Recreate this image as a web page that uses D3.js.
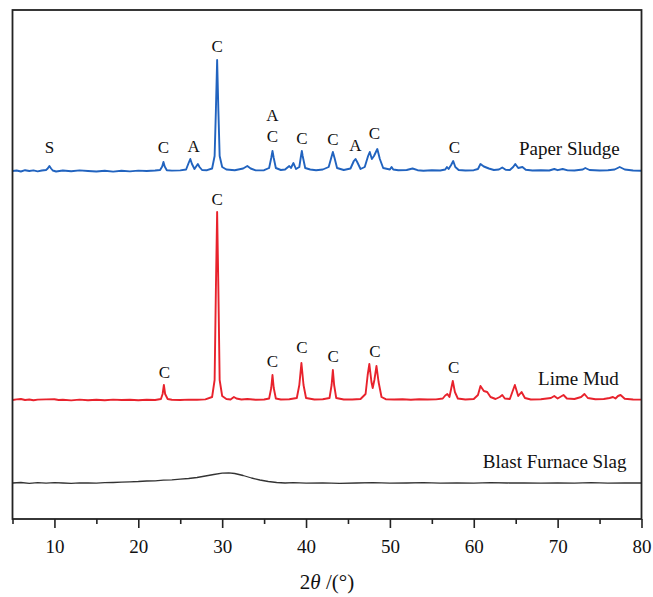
<!DOCTYPE html>
<html>
<head>
<meta charset="utf-8">
<script src="https://cdn.jsdelivr.net/npm/d3@7"></script>
<style>
  body { margin: 0; background: #fff; }
  svg text { font-family: "Liberation Serif", "Times New Roman", serif; fill: #111; }
  .trace { fill: none; stroke-linejoin: round; }
</style>
</head>
<body>
<svg id="xrd-svg"></svg>
<script>
// 2theta (deg), intensity above each pattern's own baseline (counts)
const paperSludge = [
  [5,0],[5.5,5],[6,-5],[6.5,8],[7,0],[7.5,6],[8,-4],[8.5,5],[9,10],[9.2,25],[9.4,50],[9.6,25],[9.8,5],
  [10.2,-5],[11,5],[12,-3],[13,6],[14,0],[15,-5],[16,3],[17,-6],[18,2],[19,-4],[20,4],[21,0],[22,5],
  [22.6,10],[22.85,45],[23.0,90],[23.15,45],[23.4,8],[24,4],[25,6],[25.7,15],[26.0,80],[26.2,120],
  [26.4,70],[26.7,20],[26.9,45],[27.1,70],[27.3,40],[27.6,10],[28.2,8],[28.8,25],[29.1,150],[29.25,600],
  [29.4,1110],[29.55,600],[29.7,150],[30.0,40],[30.5,15],[31.5,8],[32.5,25],[33.0,50],[33.4,25],[34,6],
  [35,8],[35.6,30],[35.85,130],[36.0,200],[36.15,130],[36.4,30],[37,10],[37.5,15],[38.0,50],[38.2,30],
  [38.5,80],[38.8,20],[39.2,40],[39.4,150],[39.5,200],[39.6,150],[39.9,30],[40.5,15],[41.2,8],[42,15],
  [42.7,40],[43.0,130],[43.2,190],[43.4,130],[43.7,30],[44.5,10],[45.3,25],[45.7,100],[45.9,120],
  [46.1,90],[46.5,20],[47.0,40],[47.4,150],[47.6,190],[47.85,120],[48.1,150],[48.5,220],[48.8,120],
  [49.2,30],[50,15],[50.2,40],[50.4,15],[51,8],[52,10],[52.7,25],[53.3,8],[54,3],[55,8],[56,5],
  [56.6,15],[56.8,40],[57,20],[57.3,60],[57.55,100],[57.8,40],[58.2,10],[59,5],[60,8],[60.5,20],
  [60.8,70],[61.2,45],[61.8,25],[62.4,10],[63,15],[63.4,35],[63.8,12],[64.3,10],[64.7,40],[64.95,70],
  [65.3,30],[65.8,40],[66.2,12],[67,5],[68,8],[69,5],[69.6,20],[70,8],[70.6,20],[71.2,6],[72,5],
  [73.0,15],[73.3,30],[73.8,10],[75,5],[76,8],[76.8,15],[77.4,40],[78,15],[79,5],[80,3]
];

const limeMud = [
  [5,0],[5.5,6],[6,10],[6.5,0],[7,5],[7.5,-3],[8,4],[9,6],[10,8],[10.5,0],[11,3],[12,-4],[13,4],
  [14,-2],[15,3],[16,-3],[17,4],[18,0],[19,3],[20,-2],[21,2],[22,0],[22.7,10],[22.9,60],[23.05,150],
  [23.2,60],[23.5,10],[24,3],[25,0],[26,4],[27,2],[28,6],[28.8,30],[29.1,200],[29.25,1100],[29.4,1880],
  [29.55,1100],[29.7,200],[30.0,40],[30.5,10],[31.0,5],[31.4,30],[31.7,15],[32.3,5],[33,10],[34,2],
  [35,5],[35.6,15],[35.85,120],[36.0,250],[36.15,120],[36.4,15],[37,5],[38,8],[38.9,20],[39.2,150],
  [39.45,370],[39.7,150],[40,20],[41,5],[42,8],[42.8,20],[43.05,150],[43.2,300],[43.35,150],[43.6,20],
  [44.5,5],[45.5,5],[46.5,10],[47.1,60],[47.35,250],[47.55,360],[47.8,180],[47.95,120],[48.15,200],
  [48.4,340],[48.65,180],[49.0,30],[49.5,8],[50.5,5],[51.5,8],[52.5,3],[53.5,8],[54.5,5],[55.5,6],
  [56.3,15],[56.6,45],[56.85,60],[57.1,30],[57.3,110],[57.5,190],[57.75,80],[58.1,15],[59,5],[60,10],
  [60.5,50],[60.8,140],[61.2,90],[61.6,80],[62,30],[62.6,10],[63.1,30],[63.4,50],[63.7,15],[64.3,10],
  [64.6,80],[64.9,150],[65.3,40],[65.7,80],[66.1,20],[66.8,5],[68,8],[69.2,20],[69.6,40],[70.0,15],
  [70.4,35],[70.7,50],[71.1,15],[72,10],[72.8,30],[73.2,60],[73.6,20],[74.5,8],[75.5,10],[76.2,20],
  [76.6,30],[76.9,15],[77.2,40],[77.5,50],[78,12],[79,5],[80,4]
];

const slag = [
  [5,0],[6,5],[7,-3],[8,4],[9,-2],[10,3],[11,0],[12,-3],[13,2],[14,0],[15,-2],[16,3],[17,5],[18,8],
  [19,12],[20,15],[21,20],[22,22],[23,28],[24,32],[25,38],[26,45],[27,55],[28,70],[29,85],[30,98],
  [30.8,102],[31.5,95],[32.5,75],[33.5,50],[34.5,30],[35.5,15],[36.5,5],[37.5,0],[38.5,3],[40,-2],
  [42,2],[44,-3],[46,0],[48,3],[50,-2],[52,0],[54,3],[56,-1],[58,2],[60,-2],[62,3],[64,0],[66,2],
  [68,-2],[70,1],[72,-1],[74,3],[76,-1],[78,2],[80,0]
];

// phase marks: [2theta, letter, intensity above baseline]
const paperSludgeMarks = [
  [9.4,'S',177],[23.0,'C',177],[26.6,'A',187],[29.4,'C',1187],[36.0,'A',503],[36.0,'C',287],
  [39.5,'C',267],[43.2,'C',264],[45.9,'A',196],[48.15,'C',321],[57.7,'C',180]
];
const limeMudMarks = [
  [23.1,'C',217],[29.4,'C',1950],[36.0,'C',327],[39.5,'C',473],[43.25,'C',377],[48.2,'C',434],[57.6,'C',266]
];

const seriesNames = ['Paper Sludge', 'Lime Mud', 'Blast Furnace Slag'];
const seriesOffsets = [3480, 1190, 360];
const seriesColors = ['#2163bf', '#e8222c', '#333333'];
const nameAnchors = [[77.4,163],[77.3,150],[78.2,150]];

const xTicks = [10, 20, 30, 40, 50, 60, 70, 80];
const xMinorTicks = [5, 15, 25, 35, 45, 55, 65, 75];

const width = 653, height = 597;
const margin = {top: 10, right: 11.5, bottom: 78, left: 12.5};

window.addEventListener('load', function() {
    console.log("window loaded.");
    drawXrd();
});

function drawXrd()
{
    const svg = d3.select('#xrd-svg')
        .attr('width', width)
        .attr('height', height);

    const x = d3.scaleLinear().domain([5, 80]).range([margin.left, width - margin.right]);
    const y = d3.scaleLinear().domain([0, 5090]).range([height - margin.bottom, margin.top]);

    const traces = [paperSludge, limeMud, slag];
    const marks = [paperSludgeMarks, limeMudMarks, []];

    traces.forEach((data, i) => {
        const off = seriesOffsets[i];
        const line = d3.line()
            .x(d => x(d[0]))
            .y(d => y(d[1] + off));
        svg.append('path')
            .datum(data)
            .classed('trace', true)
            .attr('d', line)
            .attr('stroke', seriesColors[i])
            .attr('stroke-width', i === 2 ? 1.3 : 1.9);

        svg.append('g').selectAll('text')
            .data(marks[i])
            .join('text')
                .attr('x', d => x(d[0]))
                .attr('y', d => y(d[2] + off))
                .attr('text-anchor', 'middle')
                .style('font-size', '17px')
                .text(d => d[1]);

        svg.append('text')
            .attr('x', x(nameAnchors[i][0]))
            .attr('y', y(nameAnchors[i][1] + off))
            .attr('text-anchor', 'end')
            .style('font-size', '19px')
            .text(seriesNames[i]);
    });

    // frame
    svg.append('rect')
        .attr('x', margin.left)
        .attr('y', margin.top)
        .attr('width', width - margin.left - margin.right)
        .attr('height', height - margin.top - margin.bottom)
        .attr('fill', 'none')
        .attr('stroke', '#222')
        .attr('stroke-width', 1.8);

    // bottom axis, major + minor ticks
    const axisG = svg.append('g')
        .attr('transform', `translate(0,${height - margin.bottom})`);
    axisG.append('g')
        .call(d3.axisBottom(x).tickValues(xMinorTicks).tickSize(5).tickFormat(''))
        .call(g => g.select('.domain').remove())
        .call(g => g.selectAll('line').attr('stroke', '#222').attr('stroke-width', 1.6));
    axisG.append('g')
        .call(d3.axisBottom(x).tickValues(xTicks).tickSize(9).tickPadding(12))
        .call(g => g.select('.domain').remove())
        .call(g => g.selectAll('line').attr('stroke', '#222').attr('stroke-width', 1.6))
        .call(g => g.selectAll('text')
            .style('font-family', '"Liberation Serif", serif')
            .style('font-size', '19px')
            .attr('fill', '#111'));

    const title = svg.append('text')
        .attr('x', (margin.left + width - margin.right) / 2)
        .attr('y', 589)
        .attr('text-anchor', 'middle')
        .style('font-size', '21px');
    title.append('tspan').text('2');
    title.append('tspan').style('font-style', 'italic').text('θ');
    title.append('tspan').text(' /(°)');
}
</script>
</body>
</html>
